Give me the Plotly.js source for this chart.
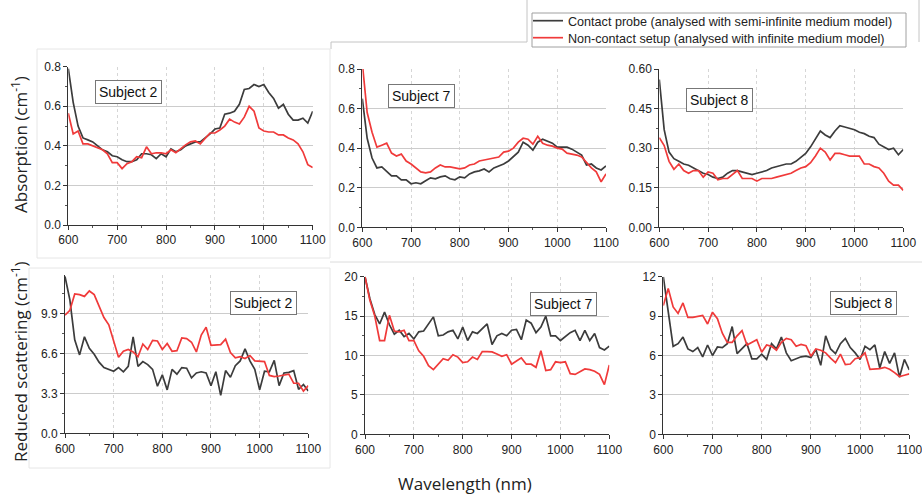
<!DOCTYPE html>
<html>
<head>
<meta charset="utf-8">
<script src="https://cdn.plot.ly/plotly-3.0.1.min.js"></script>
<style>html,body{margin:0;padding:0;background:#fff;}#chart{width:922px;height:495px;}</style>
</head>
<body>
<div id="chart"></div>
<script>
// Wavelength grid (nm), 10 nm steps
const wavelength = [];
for (let w = 600; w <= 1100; w += 10) wavelength.push(w);

const seriesNames = [
  "Contact probe (analysed with semi-infinite medium model)",
  "Non-contact setup (analysed with infinite medium model)"
];
const subjects = ["Subject 2", "Subject 7", "Subject 8"];

// Absorption (cm^-1)
const absS2Contact = [0.79,0.62,0.50,0.44,0.43,0.42,0.40,0.38,0.37,0.35,0.345,0.33,0.32,0.32,0.33,0.36,0.36,0.355,0.335,0.36,0.345,0.385,0.37,0.38,0.40,0.41,0.42,0.42,0.44,0.46,0.485,0.49,0.56,0.565,0.575,0.61,0.685,0.69,0.71,0.70,0.71,0.67,0.64,0.59,0.61,0.56,0.53,0.53,0.54,0.515,0.575];
const absS2NonContact = [0.565,0.46,0.475,0.41,0.41,0.40,0.39,0.38,0.36,0.315,0.315,0.285,0.31,0.32,0.345,0.34,0.395,0.36,0.365,0.365,0.36,0.38,0.365,0.385,0.405,0.42,0.425,0.41,0.44,0.465,0.465,0.48,0.50,0.535,0.52,0.51,0.545,0.60,0.575,0.49,0.475,0.47,0.47,0.455,0.455,0.44,0.43,0.41,0.37,0.305,0.29];
const absS7Contact = [0.65,0.45,0.35,0.30,0.305,0.28,0.26,0.26,0.24,0.24,0.22,0.225,0.22,0.235,0.25,0.245,0.255,0.26,0.245,0.24,0.255,0.25,0.27,0.28,0.285,0.295,0.28,0.30,0.31,0.32,0.335,0.36,0.38,0.43,0.415,0.39,0.43,0.445,0.435,0.425,0.405,0.405,0.405,0.395,0.38,0.365,0.315,0.32,0.30,0.29,0.31];
const absS7NonContact = [0.83,0.58,0.48,0.405,0.415,0.425,0.375,0.36,0.37,0.335,0.32,0.30,0.28,0.275,0.28,0.30,0.315,0.305,0.305,0.30,0.295,0.30,0.315,0.32,0.335,0.34,0.345,0.35,0.355,0.38,0.385,0.40,0.43,0.45,0.445,0.42,0.46,0.425,0.415,0.41,0.40,0.395,0.375,0.37,0.365,0.355,0.325,0.30,0.28,0.23,0.27];
const absS8Contact = [0.56,0.37,0.285,0.26,0.25,0.24,0.235,0.225,0.215,0.205,0.20,0.19,0.185,0.19,0.205,0.215,0.215,0.21,0.205,0.20,0.205,0.21,0.215,0.225,0.23,0.235,0.24,0.24,0.25,0.265,0.28,0.305,0.335,0.365,0.35,0.34,0.365,0.385,0.38,0.375,0.37,0.36,0.355,0.345,0.34,0.315,0.305,0.295,0.30,0.275,0.295];
const absS8NonContact = [0.34,0.31,0.25,0.22,0.24,0.215,0.205,0.215,0.215,0.19,0.21,0.205,0.18,0.185,0.185,0.20,0.215,0.185,0.185,0.185,0.175,0.185,0.185,0.185,0.19,0.195,0.20,0.205,0.215,0.225,0.23,0.245,0.27,0.30,0.285,0.255,0.28,0.28,0.275,0.27,0.27,0.27,0.24,0.24,0.23,0.225,0.205,0.175,0.16,0.16,0.14];

// Reduced scattering (cm^-1)
const scatS2Contact = [13.0,11.06,7.75,6.5,8.0,7.05,6.55,5.9,5.45,5.3,5.15,5.45,5.1,5.55,8.0,5.55,5.95,5.7,5.3,3.9,4.85,3.6,5.3,4.9,5.45,5.4,4.6,5.0,5.1,5.0,3.95,5.1,3.15,5.2,4.65,5.6,6.0,7.0,6.0,5.3,3.6,5.15,5.1,6.05,3.95,5.0,5.05,5.2,3.65,4.05,3.5];
const scatS2NonContact = [9.8,10.2,11.55,11.5,11.35,11.8,11.5,10.5,9.6,9.0,7.7,6.3,6.8,6.95,6.75,6.35,7.4,6.95,7.7,7.65,6.95,7.45,6.8,6.85,7.9,7.85,7.55,6.75,8.15,8.8,7.3,7.3,7.35,7.8,6.7,6.25,6.35,6.2,6.45,6.0,6.0,5.95,4.8,4.7,4.75,4.85,4.9,4.15,4.15,3.5,3.95];
const scatS7Contact = [20.0,17.2,15.2,14.0,15.5,13.9,12.7,13.2,12.4,12.8,12.1,13.0,13.1,14.0,14.9,12.5,12.6,13.0,13.2,12.1,13.6,11.9,13.0,12.8,13.4,14.0,11.4,12.5,12.8,12.5,13.2,13.3,12.0,14.5,14.1,12.9,13.6,15.0,12.5,12.5,11.9,12.4,12.9,13.2,11.9,13.2,11.9,12.8,11.0,10.7,11.2];
const scatS7NonContact = [20.0,17.0,15.0,11.9,11.9,15.1,13.1,13.0,13.2,11.9,11.9,10.6,9.9,8.7,8.2,8.9,9.6,9.4,10.1,9.8,9.1,9.2,9.8,9.5,10.5,10.5,10.45,10.2,9.9,10.1,8.9,9.3,9.7,8.9,8.9,8.5,10.6,8.1,8.2,9.2,9.1,9.2,7.7,7.6,7.9,8.3,8.2,8.0,7.6,6.3,8.8];
const scatS8Contact = [12.0,9.3,6.7,6.9,7.4,6.5,6.3,6.6,5.9,6.8,6.0,6.65,6.6,6.9,8.2,6.15,6.5,6.9,5.75,5.75,6.1,5.7,6.9,6.5,7.4,6.2,5.6,5.75,5.9,5.95,5.85,6.45,5.25,7.5,6.5,6.15,6.9,7.3,6.6,6.2,5.7,6.7,6.45,6.8,5.05,6.3,5.4,6.2,4.35,5.7,4.9];
const scatS8NonContact = [9.8,11.1,9.7,9.2,10.0,8.9,8.9,9.0,9.05,8.4,9.3,8.8,7.7,7.0,7.0,7.5,7.9,6.8,7.0,7.2,6.25,6.8,6.7,6.4,7.0,7.3,7.2,6.7,6.85,6.75,5.95,6.5,6.4,6.2,5.8,5.45,6.1,5.3,5.35,5.75,5.85,6.2,4.95,4.95,5.0,5.1,4.95,4.7,4.4,4.5,4.6];

// y-axis tick labels per panel
const yTicks = [
  [0,0.2,0.4,0.6,0.8],
  [0,0.2,0.4,0.6,0.8],
  [0,0.15,0.30,0.45,0.60],
  [0,3.3,6.6,9.9],
  [0,5,10,15,20],
  [0,3,6,9,12]
];
const xTicks = [600,700,800,900,1000,1100];

const panels = [
  {c: absS2Contact, n: absS2NonContact, subj: subjects[0]},
  {c: absS7Contact, n: absS7NonContact, subj: subjects[1]},
  {c: absS8Contact, n: absS8NonContact, subj: subjects[2]},
  {c: scatS2Contact, n: scatS2NonContact, subj: subjects[0]},
  {c: scatS7Contact, n: scatS7NonContact, subj: subjects[1]},
  {c: scatS8Contact, n: scatS8NonContact, subj: subjects[2]}
];

// layout geometry (pixels -> paper fractions)
const W = 922, H = 495;
const geo = [
  {x:[68.3,312.7], y:[225,66.7], r:[0,0.8], f:'.1f', ml:0.1, box:[128,92]},
  {x:[362.3,606], y:[227.3,69], r:[0,0.8], f:'.1f', ml:0.1, box:[421.7,96]},
  {x:[659.3,903.3], y:[227.3,69], r:[0,0.6], f:'.2f', ml:0.075, box:[719,100]},
  {x:[65,308.3], y:[433.3,275.3], r:[0,13.1], f:'.1f', ml:1.65, box:[263.7,303]},
  {x:[365,609.3], y:[434.3,276.7], r:[0,20], f:'d', ml:2.5, box:[563.7,304]},
  {x:[663.3,909.3], y:[434.3,276.7], r:[0,12], f:'d', ml:1.5, box:[863,303]}
];

const black = '#3c3c3c', red = '#f03a3a';
const legendFont = {family: 'Liberation Sans, Arial, sans-serif', size: 12.6, color: '#222'};
const traces = [];
const layout = {
  width: W, height: H,
  margin: {l:0, r:0, t:0, b:0},
  paper_bgcolor: '#fff', plot_bgcolor: '#fff',
  font: {family: 'Liberation Sans, Arial, sans-serif', size: 12, color: '#222'},
  showlegend: true,
  legend: {
    x: 528/W, y: 1 - 21/H, xanchor: 'left', yanchor: 'middle',
    borderwidth: 0, bgcolor: 'rgba(0,0,0,0)', font: legendFont, itemwidth: 30
  },
  legend2: {
    x: 528/W, y: 1 - 38/H, xanchor: 'left', yanchor: 'middle',
    borderwidth: 0, bgcolor: 'rgba(0,0,0,0)', font: legendFont, itemwidth: 30
  },
  annotations: [],
  shapes: []
};

panels.forEach((p, i) => {
  const k = i === 0 ? '' : String(i + 1);
  const g = geo[i];
  traces.push({
    x: wavelength, y: p.c, type: 'scatter', mode: 'lines',
    name: seriesNames[0], line: {color: black, width: 1.7},
    xaxis: 'x' + k, yaxis: 'y' + k, showlegend: i === 0, legend: 'legend'
  });
  traces.push({
    x: wavelength, y: p.n, type: 'scatter', mode: 'lines',
    name: seriesNames[1], line: {color: red, width: 1.7},
    xaxis: 'x' + k, yaxis: 'y' + k, showlegend: i === 0, legend: 'legend2'
  });
  layout['xaxis' + k] = {
    domain: [g.x[0]/W, g.x[1]/W], anchor: 'y' + k, range: [600, 1100],
    tickvals: xTicks, ticks: 'outside', ticklen: 4, tickcolor: '#333',
    showline: true, linecolor: '#333', linewidth: 1,
    showgrid: true, gridcolor: '#d6d6d6', griddash: 'dot', gridwidth: 1,
    zeroline: false, tickfont: {size: 12, color: '#222'},
    ticklabeloverflow: 'allow',
    minor: {dtick: 50, ticks: 'outside', ticklen: 2, tickcolor: '#555', showgrid: false},
    fixedrange: true
  };
  layout['yaxis' + k] = {
    domain: [1 - g.y[0]/H, 1 - g.y[1]/H], anchor: 'x' + k, range: g.r,
    tickvals: yTicks[i], tickformat: g.f, ticks: 'outside', ticklen: 4, tickcolor: '#333',
    showline: true, linecolor: '#333', linewidth: 1,
    showgrid: true, gridcolor: '#cccccc', gridwidth: 1,
    zeroline: false, tickfont: {size: 12, color: '#222'},
    minor: {dtick: g.ml, tick0: 0, ticks: 'outside', ticklen: 2, tickcolor: '#555', showgrid: false},
    fixedrange: true
  };
  layout.annotations.push({
    text: p.subj, xref: 'paper', yref: 'paper',
    x: g.box[0]/W, y: 1 - g.box[1]/H, xanchor: 'center', yanchor: 'middle',
    showarrow: false, font: {family: 'Liberation Sans, Arial, sans-serif', size: 14, color: '#111'},
    bgcolor: '#fff', bordercolor: '#777', borderwidth: 1, borderpad: 3
  });
});

// axis titles
const titleFont = {family: 'Open Sans, sans-serif', size: 17, color: '#222'};
layout.annotations.push(
  {text: 'Absorption (cm<sup>-1</sup>)', xref: 'paper', yref: 'paper', x: 19/W, y: 1 - 145/H,
   textangle: -90, showarrow: false, xanchor: 'center', yanchor: 'middle', font: titleFont},
  {text: 'Reduced scattering (cm<sup>-1</sup>)', xref: 'paper', yref: 'paper', x: 19/W, y: 1 - 362/H,
   textangle: -90, showarrow: false, xanchor: 'center', yanchor: 'middle', font: titleFont},
  {text: 'Wavelength (nm)', xref: 'paper', yref: 'paper', x: 465/W, y: 1 - 483/H,
   showarrow: false, xanchor: 'center', yanchor: 'middle', font: titleFont}
);

// faint panel frames from the composite figure, and the legend box
const frame = (x0, y0, x1, y1, c) => ({type: 'rect', xref: 'paper', yref: 'paper', layer: 'below',
  x0: x0/W, x1: x1/W, y0: 1 - y1/H, y1: 1 - y0/H, line: {color: c || '#e6e6e6', width: 1}});
const seg = (x0, y0, x1, y1, c) => ({type: 'line', xref: 'paper', yref: 'paper', layer: 'below',
  x0: x0/W, x1: x1/W, y0: 1 - y0/H, y1: 1 - y1/H, line: {color: c || '#e0e0e0', width: 1}});
layout.shapes.push(
  frame(37, 49, 330, 258),
  frame(29, 268, 330, 468),
  seg(331, 42, 527, 42, '#c4c4c4'),
  seg(331, 42, 331, 49, '#c4c4c4'),
  seg(527, 0, 527, 42, '#c4c4c4'),
  seg(919, 0, 919, 42, '#c4c4c4'),
  seg(330, 262, 922, 262, '#dcdcdc'),
  frame(532, 13, 906, 47, '#a0a0a0')
);

Plotly.newPlot('chart', traces, layout, {displayModeBar: false, staticPlot: true});
</script>
</body>
</html>
